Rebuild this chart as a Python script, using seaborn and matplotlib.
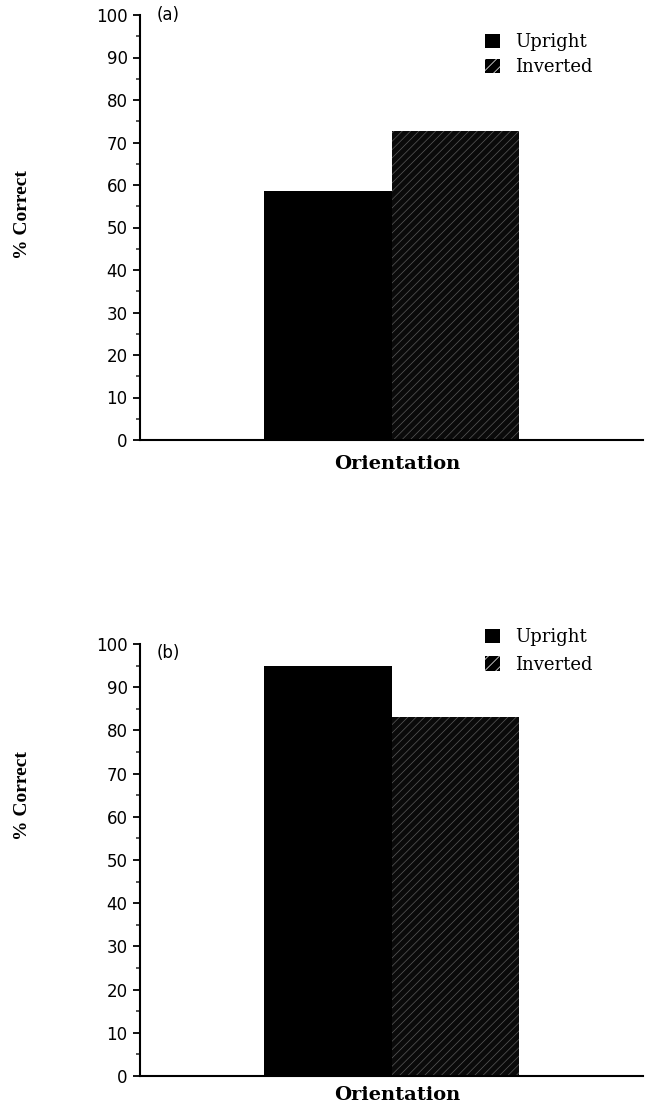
import matplotlib
matplotlib.use("Agg")
import matplotlib.pyplot as plt
from matplotlib.ticker import MultipleLocator
from matplotlib.patches import Patch
import seaborn as sns
import pandas as pd

# ---- data ----
conditions = ["Upright", "Inverted"]
panel_a_values = [58.7, 72.6]
panel_b_values = [95.0, 83.0]
panel_labels = ["(a)", "(b)"]
y_ticks = [0, 10, 20, 30, 40, 50, 60, 70, 80, 90, 100]
x_label = "Orientation"
y_label = "% Correct"

sns.set_theme(style="ticks")
plt.rcParams["font.family"] = ["DejaVu Sans"]
plt.rcParams["hatch.linewidth"] = 0.5
plt.rcParams["text.color"] = "black"

fig = plt.figure(figsize=(6.51, 11.12), dpi=100)

# axes rectangles (figure fractions)
rects = [
    [140 / 651, 1 - 440 / 1112, 503 / 651, 425 / 1112],
    [140 / 651, 1 - 1076 / 1112, 503 / 651, 432 / 1112],
]
legend_anchor_y = [0.957, 1.037]
legend_spacing = [0.4, 0.55]
label_y_frac = [1 - 215 / 1112, 1 - 796 / 1112]
xlabel_y_frac = [1 - 464 / 1112, 1 - 1095 / 1112]
panel_text_y = [1.0, 0.98]

for i, vals in enumerate([panel_a_values, panel_b_values]):
    ax = fig.add_axes(rects[i])
    df = pd.DataFrame({"Orientation": ["", ""], "Condition": conditions, "Correct": vals})
    sns.barplot(data=df, x="Orientation", y="Correct", hue="Condition",
                palette=["black", "black"], saturation=1, width=0.505,
                ax=ax, legend=False, errorbar=None)
    patches = list(ax.patches)
    for p in patches:
        p.set_linewidth(0)
    inv = patches[1]
    inv.set_facecolor("#0a0a0a")
    inv.set_hatch("////")
    inv.set_edgecolor("#5a5a5a")
    inv.set_linewidth(0)

    ax.set_xlim(-0.5, 0.5)
    ax.set_ylim(0, 100)
    ax.set_yticks(y_ticks)
    ax.yaxis.set_minor_locator(MultipleLocator(5))
    ax.set_xticks([])
    ax.set_xlabel("")
    ax.set_ylabel("")
    for s in ["top", "right"]:
        ax.spines[s].set_visible(False)
    for s in ["left", "bottom"]:
        ax.spines[s].set_linewidth(1.5)
        ax.spines[s].set_color("black")
    ax.tick_params(axis="y", which="major", length=5, width=1.3, pad=4,
                   labelsize=12, colors="black")
    ax.tick_params(axis="y", which="minor", length=3, width=1.1, left=True)
    ax.set_facecolor("white")

    ax.text(0.034, panel_text_y[i], panel_labels[i], transform=ax.transAxes,
            ha="left", va="center", fontsize=12, family="DejaVu Sans", color="black")

    handles = [
        Patch(facecolor="black", edgecolor="black", linewidth=0),
        Patch(facecolor="black", edgecolor="white", hatch="///", linewidth=0),
    ]
    leg = ax.legend(handles=handles, labels=conditions, loc="upper left",
                    bbox_to_anchor=(0.686, legend_anchor_y[i]), frameon=False,
                    borderpad=0, borderaxespad=0, handlelength=0.85, handleheight=0.85,
                    handletextpad=0.8, labelspacing=legend_spacing[i],
                    prop={"family": "DejaVu Serif", "size": 13})
    for t in leg.get_texts():
        t.set_color("black")

    fig.text(0.035, label_y_frac[i], y_label, rotation=90, ha="center", va="center",
             fontsize=14, fontweight="bold", family="Liberation Serif", color="black")
    fig.text(397 / 651, xlabel_y_frac[i], x_label, ha="center", va="center",
             fontsize=14, fontweight="bold", family="DejaVu Serif", color="black")

fig.savefig("out.png", dpi=100, facecolor="white")
